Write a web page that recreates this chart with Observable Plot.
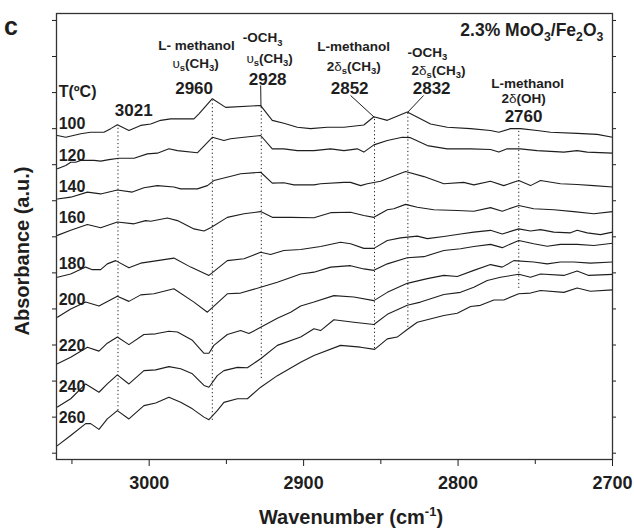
<!DOCTYPE html>
<html><head><meta charset="utf-8">
<script src="https://cdn.jsdelivr.net/npm/d3@7"></script>
<script src="https://cdn.jsdelivr.net/npm/@observablehq/plot@0.6"></script>
<style>
body{margin:0;background:#fff;}
#wrap{width:634px;height:528px;}
</style></head><body><div id="wrap"></div>
<script>
// ---- data (wavenumber cm-1, absorbance a.u.) ----
const temps = [100, 120, 140, 160, 180, 200, 220, 240, 260];
const s100 = [[3059.4,0.881],[3054,0.876],[3044.3,0.886],[3037.9,0.890],[3029.3,0.890],[3024.9,0.900],[3020.6,0.911],[3013.1,0.895],[3005.5,0.909],[2999,0.913],[2992.6,0.923],[2986.1,0.927],[2971,0.927],[2967.8,0.941],[2959.1,0.983],[2950.5,0.959],[2927.8,0.964],[2920.3,0.923],[2912.8,0.915],[2904.1,0.904],[2895.5,0.900],[2884.7,0.904],[2873.9,0.904],[2861,0.910],[2854.5,0.933],[2845.8,0.923],[2832.9,0.946],[2817.8,0.913],[2807,0.904],[2791.9,0.900],[2779,0.895],[2773.6,0.890],[2766,0.900],[2759.6,0.900],[2748.8,0.895],[2740.1,0.890],[2722.9,0.887],[2709.9,0.884],[2700,0.876]];
const s120 = [[3059.4,0.789],[3054,0.798],[3050.8,0.807],[3047.6,0.807],[3044.3,0.812],[3035.7,0.812],[3031.4,0.810],[3026,0.814],[3019.5,0.818],[3009.8,0.818],[3001.2,0.830],[2994.7,0.832],[2987.2,0.844],[2981.7,0.839],[2968.8,0.833],[2959.1,0.876],[2951.6,0.867],[2947.3,0.872],[2938.6,0.876],[2927.8,0.881],[2920.3,0.844],[2912.8,0.844],[2904.1,0.839],[2893.3,0.839],[2882.5,0.844],[2873.9,0.839],[2865.3,0.844],[2861,0.835],[2854.5,0.855],[2845.8,0.867],[2836.1,0.876],[2830.8,0.875],[2819.9,0.853],[2807,0.844],[2791.9,0.844],[2779,0.842],[2773.6,0.835],[2768.2,0.844],[2759.6,0.844],[2748.8,0.839],[2740.1,0.837],[2731.5,0.835],[2722.9,0.839],[2716.4,0.835],[2700,0.832]];
const s140 = [[3059.4,0.705],[3050.8,0.710],[3040,0.724],[3031.4,0.719],[3020.6,0.730],[3010.9,0.724],[3003.4,0.736],[2994.7,0.742],[2984,0.738],[2979.6,0.733],[2968.8,0.733],[2962.3,0.742],[2958.1,0.756],[2945.1,0.770],[2940.8,0.775],[2927.8,0.779],[2920.3,0.749],[2912.8,0.750],[2906.3,0.744],[2893.3,0.744],[2889,0.747],[2873.9,0.751],[2869.6,0.751],[2863.1,0.742],[2858.8,0.747],[2850.2,0.754],[2843.7,0.765],[2834,0.781],[2822.1,0.767],[2809.2,0.747],[2796.3,0.751],[2789.8,0.744],[2779,0.754],[2770.4,0.742],[2760.7,0.756],[2753.1,0.742],[2746.6,0.756],[2733.7,0.747],[2722.9,0.745],[2712.1,0.742],[2700,0.738]];
const s160 = [[3059.4,0.604],[3050.8,0.618],[3040,0.634],[3031.4,0.625],[3020.6,0.641],[3009.8,0.636],[3002.3,0.645],[2999,0.643],[2988.2,0.652],[2981.7,0.645],[2971,0.622],[2964.5,0.616],[2960.2,0.625],[2949.4,0.654],[2938.6,0.664],[2927.8,0.670],[2920.3,0.654],[2908.4,0.654],[2893.3,0.653],[2882.5,0.667],[2869.6,0.668],[2861,0.659],[2854.5,0.654],[2845.8,0.675],[2841.6,0.678],[2834,0.690],[2826.4,0.682],[2815.7,0.675],[2800.5,0.673],[2789.8,0.671],[2779,0.681],[2771.4,0.671],[2760.7,0.687],[2751,0.678],[2738,0.675],[2725.1,0.670],[2712.1,0.664],[2700,0.670]];
const s180 = [[3059.4,0.488],[3050.8,0.497],[3041.1,0.516],[3036.8,0.509],[3031.4,0.509],[3027.1,0.525],[3021.7,0.534],[3013.1,0.514],[3005.5,0.527],[2994.7,0.534],[2984,0.541],[2973.1,0.516],[2961.3,0.493],[2949.4,0.534],[2938.6,0.539],[2927.8,0.557],[2921.4,0.551],[2912.8,0.562],[2901.9,0.565],[2889,0.573],[2876.1,0.585],[2869.6,0.581],[2861,0.568],[2854.5,0.568],[2845.8,0.590],[2837.2,0.597],[2826.4,0.602],[2819.9,0.595],[2809.2,0.601],[2798.4,0.608],[2789.8,0.613],[2779,0.618],[2771.4,0.608],[2760.7,0.622],[2753.1,0.616],[2746.6,0.620],[2738,0.613],[2727.2,0.611],[2722.9,0.618],[2716.4,0.611],[2707.8,0.606],[2700,0.613]];
const s200 = [[3059.4,0.377],[3050.8,0.400],[3041.1,0.419],[3032.5,0.408],[3020.6,0.435],[3013.1,0.421],[3005.5,0.439],[2996.9,0.442],[2984,0.456],[2971,0.419],[2962.3,0.391],[2949.4,0.442],[2940.8,0.444],[2927.8,0.460],[2917,0.474],[2901.9,0.497],[2893.3,0.502],[2882.5,0.516],[2869.6,0.520],[2861,0.511],[2854.5,0.507],[2845.8,0.525],[2832.9,0.542],[2822.1,0.545],[2809.2,0.562],[2798.4,0.567],[2789.8,0.573],[2779,0.579],[2771.4,0.570],[2760.7,0.590],[2751,0.581],[2742.3,0.574],[2733.7,0.579],[2722.9,0.579],[2712.1,0.576],[2700,0.582]];
const s220 = [[3059.4,0.248],[3050.8,0.266],[3040,0.294],[3032.5,0.283],[3027.1,0.305],[3020.6,0.322],[3013.1,0.301],[3003.4,0.329],[2995.8,0.331],[2987.2,0.338],[2981.7,0.336],[2972,0.313],[2964.5,0.277],[2961.3,0.277],[2958.1,0.299],[2949.4,0.329],[2940.8,0.340],[2935.4,0.332],[2927.8,0.349],[2917,0.374],[2908.4,0.391],[2901.9,0.408],[2893.3,0.419],[2880.4,0.437],[2867.5,0.433],[2854.5,0.423],[2845.8,0.446],[2832.9,0.471],[2819.9,0.484],[2809.2,0.493],[2800.5,0.490],[2789.8,0.507],[2779,0.523],[2771.4,0.516],[2763.9,0.534],[2751,0.530],[2742.3,0.525],[2733.7,0.530],[2725.1,0.530],[2714.3,0.527],[2700,0.530]];
const s240 = [[3059.4,0.128],[3050.8,0.151],[3041.1,0.192],[3032.5,0.169],[3027.1,0.192],[3020.6,0.217],[3013.1,0.192],[3003.4,0.229],[2995.8,0.231],[2987.2,0.240],[2979.6,0.234],[2972,0.220],[2964.5,0.188],[2961.3,0.183],[2955.9,0.215],[2951.6,0.229],[2942.9,0.238],[2936.4,0.237],[2927.8,0.262],[2917,0.299],[2901.9,0.322],[2893.3,0.345],[2889,0.340],[2880.4,0.370],[2867.5,0.363],[2854.5,0.357],[2845.8,0.385],[2832.9,0.410],[2824.3,0.419],[2809.2,0.440],[2798.4,0.446],[2789.8,0.460],[2781.1,0.479],[2772.5,0.488],[2760.7,0.496],[2753.1,0.488],[2746.6,0.497],[2731.5,0.493],[2722.9,0.505],[2715.4,0.493],[2700,0.496]];
const s260 = [[3059.4,0.021],[3050.8,0.049],[3041.1,0.082],[3037.9,0.082],[3032.5,0.066],[3027.1,0.095],[3020.6,0.118],[3013.1,0.095],[3003.4,0.132],[2995.8,0.139],[2987.2,0.155],[2979.6,0.141],[2972,0.123],[2964.5,0.100],[2961.3,0.093],[2955.9,0.118],[2951.6,0.141],[2942.9,0.151],[2936.4,0.151],[2927.8,0.183],[2917,0.215],[2901.9,0.252],[2893.3,0.271],[2876.1,0.299],[2863.1,0.294],[2854,0.288],[2845.8,0.317],[2839.4,0.322],[2832.9,0.343],[2826.4,0.363],[2809.2,0.382],[2800.5,0.388],[2791.9,0.407],[2785.5,0.410],[2776.8,0.425],[2770.4,0.425],[2760.7,0.442],[2753.1,0.444],[2746.6,0.451],[2731.5,0.446],[2722.9,0.458],[2714.3,0.449],[2700,0.453]];
const spectra = [s100, s120, s140, s160, s180, s200, s220, s240, s260];

// temperature labels (left of each spectrum)
const tempLabelWn = 3058.6;
const tempLabelA = [0.900, 0.809, 0.723, 0.637, 0.512, 0.410, 0.282, 0.171, 0.085];

// dotted peak guide lines
const guideWn = [3020.2, 2959.1, 2927.4, 2854.1, 2832.5, 2760.7];
const guideTop = [0.909, 0.978, 0.961, 0.931, 0.945, 0.895];
const guideBottom = [0.118, 0.091, 0.207, 0.290, 0.349, 0.457];

// solid leader lines from labels to peaks
const leaderWn1 = [2927.8, 2869.6, 2822.3];
const leaderA1 = [1.020, 0.992, 0.992];
const leaderWn2 = [2927.6, 2854.1, 2832.7];
const leaderA2 = [0.961, 0.931, 0.945];

// annotation texts ("_" marks a subscript character)
const annText = ["L- methanol", "υ_s(CH_3)", "2960", "-OCH_3", "υ_s(CH_3)", "2928", "3021", "T(ºC)",
  "L-methanol", "2δ_s(CH_3)", "2852", "-OCH_3", "2δ_s(CH_3)", "2832",
  "L-methanol", "2δ(OH)", "2760", "2.3% MoO_3/Fe_2O_3"];
const annWn = [2969.3, 2969.9, 2970.9, 2926.5, 2922.0, 2923.3, 3010.0, 3058.6,
  2867.6, 2867.6, 2870.2, 2819.8, 2812.6, 2817.1,
  2755.0, 2757.6, 2757.6, 2705.9];
const annA = [1.119, 1.068, 0.997, 1.139, 1.082, 1.022, 0.936, 0.989,
  1.114, 1.061, 0.997, 1.100, 1.050, 0.995,
  1.014, 0.970, 0.918, 1.156];
const annSize = [13.5, 13.5, 17, 13.5, 13.5, 17, 17, 16,
  13.5, 13.5, 17, 13.5, 13.5, 17,
  13.5, 13.5, 17, 17.5];
const annAnchor = ["middle","middle","middle","middle","middle","middle","middle","start",
  "middle","middle","middle","middle","middle","middle",
  "middle","middle","middle","end"];

const xMajor = [3000, 2900, 2800, 2700];
const xMinor = [3050, 2950, 2850, 2750];
const yTicks = [0, 0.1, 0.2, 0.3, 0.4, 0.5, 0.6, 0.7, 0.8, 0.9, 1.0, 1.1, 1.2];

// ---- build tables ----
const rows = spectra.flatMap((s, i) => s.map(([wn, a]) => ({T: temps[i], wn, a})));
const tempLabels = temps.map((t, i) => ({text: String(t), wn: tempLabelWn, a: tempLabelA[i]}));
const guides = guideWn.map((wn, i) => ({wn, top: guideTop[i], bottom: guideBottom[i]}));
const leaders = leaderWn1.map((w, i) => ({x1: w, y1: leaderA1[i], x2: leaderWn2[i], y2: leaderA2[i]}));
const ann = annText.map((t, i) => ({text: t, wn: annWn[i], a: annA[i], size: annSize[i], anchor: annAnchor[i]}));

const FONT = '"Liberation Sans", Arial, Helvetica, sans-serif';
const INK = "#1e1e1e";

const annMarks = [...new Set(annSize)].flatMap(sz => ["start","middle","end"].map(anc =>
  Plot.text(ann.filter(d => d.size === sz && d.anchor === anc), {
    x: "wn", y: "a", text: "text", fontSize: sz, fontWeight: "bold",
    textAnchor: anc, lineAnchor: "bottom", fill: INK
  })));

const plot = Plot.plot({
  width: 634, height: 528,
  marginLeft: 56, marginRight: 22, marginTop: 13, marginBottom: 69,
  style: {fontFamily: FONT, background: "#fff", color: INK, fontWeight: "bold"},
  x: {domain: [3060, 2700]},
  y: {domain: [-0.0175, 1.2193]},
  marks: [
    Plot.axisX({ticks: xMajor, tickSize: 7, tickPadding: 10, tickFormat: "d", fontSize: 18, label: null, stroke: INK}),
    Plot.axisX({ticks: xMinor, tickSize: 5, tickFormat: () => "", label: null, stroke: INK}),
    Plot.axisY({ticks: yTicks, tickSize: 4, tickFormat: () => "", label: null, stroke: INK}),
    Plot.axisY({anchor: "right", ticks: yTicks, tickSize: 3, tickFormat: () => "", label: null, stroke: INK}),
    Plot.ruleX(guides, {x: "wn", y1: "bottom", y2: "top", stroke: INK, strokeWidth: 1, strokeDasharray: "1.2,2.6"}),
    Plot.link(leaders, {x1: "x1", y1: "y1", x2: "x2", y2: "y2", stroke: INK, strokeWidth: 1}),
    Plot.line(rows, {x: "wn", y: "a", z: "T", stroke: INK, strokeWidth: 1.1, curve: "linear"}),
    Plot.text(tempLabels, {x: "wn", y: "a", text: "text", fontSize: 16, fontWeight: "bold", textAnchor: "start", lineAnchor: "bottom", fill: INK}),
    ...annMarks,
    Plot.frame({stroke: "#333", strokeWidth: 1.3})
  ]
});

document.getElementById("wrap").appendChild(plot);
const svg = d3.select(plot);

// subscripts and thin Greek letters
svg.selectAll("text").each(function () {
  const t = this.textContent;
  if (!/[_υδ]/.test(t)) return;
  const fs = parseFloat(getComputedStyle(this).fontSize) || 14;
  const segs = [];
  let buf = "";
  for (let i = 0; i < t.length; i++) {
    const c = t[i];
    if (c === "_") { if (buf) segs.push({s: buf}); buf = ""; segs.push({s: t[i + 1], sub: true}); i++; }
    else if (c === "υ" || c === "δ") { if (buf) segs.push({s: buf}); buf = ""; segs.push({s: c, greek: true}); }
    else buf += c;
  }
  if (buf) segs.push({s: buf});
  const el = d3.select(this);
  el.text("");
  let shifted = false;
  const off = fs * 0.25;
  for (const sg of segs) {
    const ts = el.append("tspan").text(sg.s);
    if (sg.sub) {
      ts.attr("font-size", fs * 0.7);
      if (!shifted) { ts.attr("dy", off); shifted = true; }
    } else {
      if (shifted) { ts.attr("dy", -off); shifted = false; }
      if (sg.greek) ts.attr("font-weight", "normal");
    }
  }
});

// axis titles and panel letter
const xt = svg.append("text").attr("x", 351).attr("y", 524).attr("text-anchor", "middle")
  .attr("font-size", 20).attr("font-weight", "bold").attr("fill", INK);
xt.append("tspan").text("Wavenumber (cm");
xt.append("tspan").attr("font-size", 13).attr("dy", -8).text("-1");
xt.append("tspan").attr("dy", 8).text(")");

svg.append("text").attr("transform", "translate(28.5,251) rotate(-90)").attr("text-anchor", "middle")
  .attr("font-size", 20).attr("font-weight", "bold").attr("fill", INK).text("Absorbance (a.u.)");

svg.append("text").attr("x", 11).attr("y", 35).attr("font-size", 25).attr("font-weight", "bold")
  .attr("fill", INK).text("c");
</script>
</body></html>
